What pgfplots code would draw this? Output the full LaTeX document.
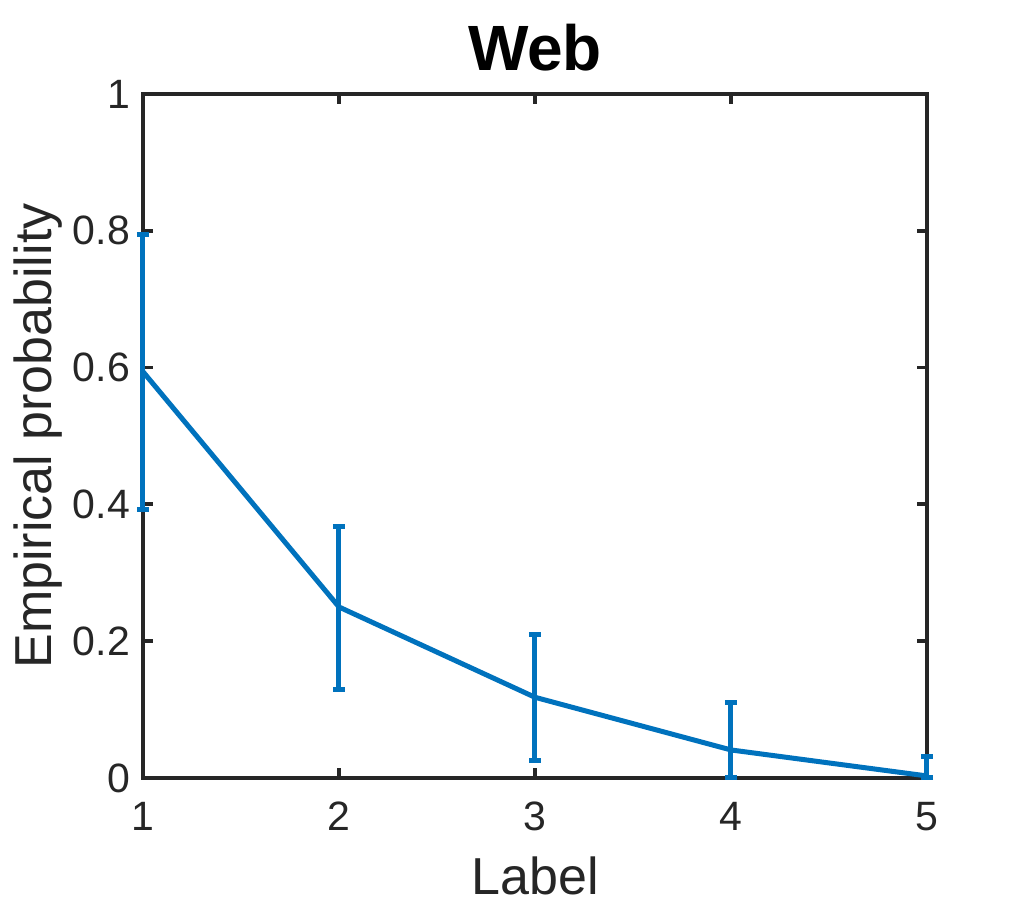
\documentclass[border=0pt]{standalone}
\usepackage{pgfplots}
\pgfplotsset{compat=1.18}
\usepackage{fontspec}
\setmainfont{Liberation Sans}
\definecolor{mblue}{rgb}{0,0.447,0.741}
\definecolor{mgray}{rgb}{0.15,0.15,0.15}
\begin{document}
\begin{tikzpicture}
\path[use as bounding box] (-71.5pt,-66pt) rectangle (440.5pt,389pt);
\begin{axis}[
  at={(0,0)}, anchor=south west,
  scale only axis, width=392pt, height=342pt,
  xmin=1, xmax=5, ymin=0, ymax=1,
  xtick={1,2,3,4,5}, ytick={0,0.2,0.4,0.6,0.8,1},
  axis line style={mgray, line width=1.9pt},
  tick style={mgray, line width=1.9pt},
  tick align=inside, major tick length=5pt,
  xtick pos=both, ytick pos=both,
  /pgf/number format/assume math mode=true,
  yticklabel={\pgfmathprintnumber[fixed]{\tick}},
  ticklabel style={font=\fontsize{20.5}{24}\selectfont, text=mgray},
  xticklabel style={yshift=-8.5pt},
  yticklabel style={xshift=-3pt},
  title={\textbf{Web}},
  title style={font=\fontsize{32}{36}\selectfont, at={(axis description cs:0.5,1)}, anchor=base, yshift=5.5pt},
  xlabel={Label},
  xlabel style={font=\fontsize{26}{30}\selectfont, text=mgray, at={(axis description cs:0.5,0)}, anchor=base, yshift=-58.5pt},
  ylabel={Empirical probability},
  ylabel style={font=\fontsize{26}{30}\selectfont, text=mgray, at={(axis description cs:-0.1173,0.5)}, anchor=base},
  clip=false,
]
\addplot[mblue, line width=2.5pt, no markers,
  error bars/.cd, y dir=both, y explicit,
  error bar style={line width=2.5pt, mblue},
  error mark options={mblue, line width=2.5pt, mark size=3pt, rotate=90}]
  coordinates {
  (1,0.594) += (0,0.201) -= (0,0.202)
  (2,0.250) += (0,0.118) -= (0,0.120)
  (3,0.118) += (0,0.092) -= (0,0.092)
  (4,0.041) += (0,0.069) -= (0,0.041)
  (5,0.003) += (0,0.028) -= (0,0.003)
  };
\end{axis}
\end{tikzpicture}
\end{document}
